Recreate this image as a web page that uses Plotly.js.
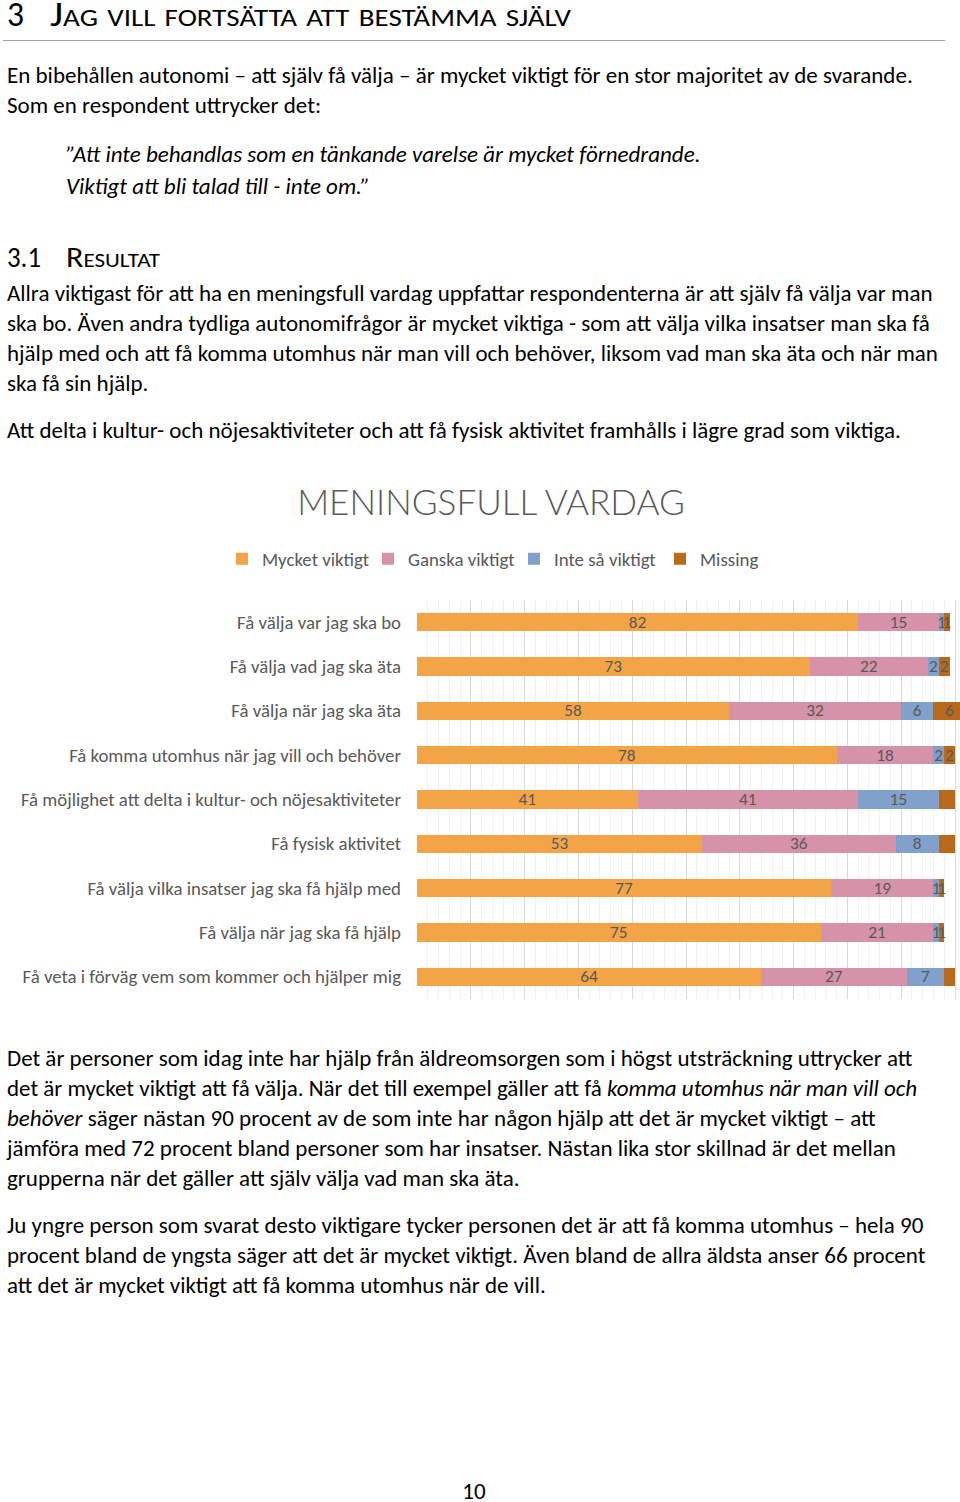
<!DOCTYPE html>
<html>
<head>
<meta charset="utf-8">
<script src="https://cdn.plot.ly/plotly-3.0.1.min.js"></script>
<style>
  html, body { margin:0; padding:0; background:#fff; }
  #page { position:relative; width:960px; height:1502px; overflow:hidden; background:#fff; color:#000; font-family:Carlito, Calibri, sans-serif; }
  .ln { position:absolute; white-space:nowrap; }
  #rule { position:absolute; left:3px; top:40px; width:942px; height:0; border-top:1.5px solid #A3A3A3; }
  #chart { position:absolute; left:0; top:450px; width:960px; height:560px; }
</style>
</head>
<body>
<div id="page">
  <div id="rule"></div>
  <div id="chart"></div>
</div>
<script>
// ---------- chart data ----------
const categories = [
  "Få välja var jag ska bo",
  "Få välja vad jag ska äta",
  "Få välja när jag ska äta",
  "Få komma utomhus när jag vill och behöver",
  "Få möjlighet att delta i kultur- och nöjesaktiviteter",
  "Få fysisk aktivitet",
  "Få välja vilka insatser jag ska få hjälp med",
  "Få välja när jag ska få hjälp",
  "Få veta i förväg vem som kommer och hjälper mig"
];
const seriesNames = ["Mycket viktigt", "Ganska viktigt", "Inte så viktigt", "Missing"];
const mycketViktigt = [82, 73, 58, 78, 41, 53, 77, 75, 64];
const ganskaViktigt = [15, 22, 32, 18, 41, 36, 19, 21, 27];
const inteSaViktigt = [1, 2, 6, 2, 15, 8, 1, 1, 7];
const missing       = [1, 2, 6, 2, 3, 3, 1, 1, 2];
const missingLabelShown = [true, true, true, true, false, false, true, true, false];
const chartTitle = "MENINGSFULL VARDAG";

// ---------- page text ----------
const FONT = "Carlito, Calibri, sans-serif";
const LIGHT = "Lato, Carlito, sans-serif";
const textLines = [
  {html:"3", x:7, base:26, size:34, fit:17},
  {html:"Jag vill fortsätta att bestämma själv", x:50, base:26, size:34, caps:true, fit:521},
  {html:"En bibehållen autonomi – att själv få välja – är mycket viktigt för en stor majoritet av de svarande.", x:7, base:83, size:23},
  {html:"Som en respondent uttrycker det:", x:7, base:113, size:23},
  {html:"”Att inte behandlas som en tänkande varelse är mycket förnedrande.", x:66, base:162, size:23, italic:true},
  {html:"Viktigt att bli talad till - inte om.”", x:66, base:194, size:23, italic:true},
  {html:"3.1", x:7, base:267, size:28, fit:34},
  {html:"Resultat", x:66, base:267, size:28, caps:true, fit:94},
  {html:"Allra viktigast för att ha en meningsfull vardag uppfattar respondenterna är att själv få välja var man", x:7, base:301, size:23},
  {html:"ska bo. Även andra tydliga autonomifrågor är mycket viktiga - som att välja vilka insatser man ska få", x:7, base:331, size:23},
  {html:"hjälp med och att få komma utomhus när man vill och behöver, liksom vad man ska äta och när man", x:7, base:361, size:23},
  {html:"ska få sin hjälp.", x:7, base:391, size:23},
  {html:"Att delta i kultur- och nöjesaktiviteter och att få fysisk aktivitet framhålls i lägre grad som viktiga.", x:7, base:438, size:23},
  {html:"Det är personer som idag inte har hjälp från äldreomsorgen som i högst utsträckning uttrycker att", x:7, base:1066, size:23},
  {html:"det är mycket viktigt att få välja. När det till exempel gäller att få <i>komma utomhus när man vill och</i>", x:7, base:1096, size:23},
  {html:"<i>behöver</i> säger nästan 90 procent av de som inte har någon hjälp att det är mycket viktigt – att", x:7, base:1126, size:23},
  {html:"jämföra med 72 procent bland personer som har insatser. Nästan lika stor skillnad är det mellan", x:7, base:1156, size:23},
  {html:"grupperna när det gäller att själv välja vad man ska äta.", x:7, base:1186, size:23},
  {html:"Ju yngre person som svarat desto viktigare tycker personen det är att få komma utomhus – hela 90", x:7, base:1233, size:23},
  {html:"procent bland de yngsta säger att det är mycket viktigt. Även bland de allra äldsta anser 66 procent", x:7, base:1263, size:23},
  {html:"att det är mycket viktigt att få komma utomhus när de vill.", x:7, base:1293, size:23},
  {html:"10", x:474, base:1499, size:23, center:true}
];

const page = document.getElementById('page');
textLines.forEach(l => {
  const d = document.createElement('div');
  d.className = 'ln';
  d.style.fontFamily = l.light ? LIGHT : FONT;
  if (l.light) d.style.fontWeight = '300';
  d.style.fontSize = l.size + 'px';
  d.style.lineHeight = Math.round(l.size * 0.75) + 'px';
  if (l.italic) d.style.fontStyle = 'italic';
  if (l.caps) d.style.fontVariant = 'small-caps';
  d.style.left = l.x + 'px';
  d.style.top = '0px';
  d.innerHTML = '<span class="t">' + l.html + '</span><span style="display:inline-block;width:0;height:0"></span>';
  page.appendChild(d);
  const off = d.lastChild.offsetTop;
  d.style.top = (l.base - off) + 'px';
  const w = d.firstChild.getBoundingClientRect().width;
  if (l.fit) {
    d.style.transformOrigin = '0 0';
    d.style.transform = 'scaleX(' + (l.fit / w) + ')';
  }
  if (l.center) d.style.left = (l.x - w / 2) + 'px';
});

// ---------- font sizes for chart from reference text widths ----------
const cv = document.createElement('canvas').getContext('2d');
function sizeFor(str, target, font) { cv.font = font || "100px Carlito"; return 100 * target / cv.measureText(str).width; }
const tickSize = sizeFor(categories[0], 164);
const legendSize = sizeFor(seriesNames[0], 107);
const titleSize = sizeFor(chartTitle, 390, "300 100px Lato");
const labelSize = sizeFor("82", 17.5);

const colors = ["#F3A447", "#D592A8", "#7FA1CB", "#B9691A"];
const values = [mycketViktigt, ganskaViktigt, inteSaViktigt, missing];

const traces = values.map((v, i) => ({
  type: 'bar',
  orientation: 'h',
  name: seriesNames[i],
  y: categories,
  x: v,
  width: 0.41,
  marker: { color: colors[i], line: { width: 0 } },
  text: v.map((val, j) => (i === 3 && !missingLabelShown[j]) ? '' : String(val)),
  textposition: 'inside',
  insidetextanchor: 'middle',
  constraintext: 'none',
  textangle: 0,
  textfont: { family: FONT, size: labelSize, color: '#595959' },
  hoverinfo: 'name+x'
}));

const H = 560, TOP = 450, PLOT_TOP = 600, PLOT_BOTTOM = 999, PLOT_LEFT = 417;
const plotH = PLOT_BOTTOM - PLOT_TOP, plotW = 960 - PLOT_LEFT;
const layout = {
  width: 960, height: H,
  margin: { l: PLOT_LEFT, r: 0, t: PLOT_TOP - TOP, b: (TOP + H) - PLOT_BOTTOM },
  barmode: 'stack',
  paper_bgcolor: 'rgba(0,0,0,0)',
  plot_bgcolor: 'rgba(0,0,0,0)',
  font: { family: FONT, color: '#595959' },
  showlegend: true,
  title: {
    text: chartTitle,
    font: { family: LIGHT, weight: 300, size: titleSize, color: '#595959' },
    xref: 'container', x: 491 / 960, xanchor: 'center',
    yref: 'container', y: 1 - (503 - TOP) / H, yanchor: 'middle'
  },
  legend: {
    orientation: 'h', traceorder: 'normal',
    entrywidth: 101, entrywidthmode: 'pixels',
    xref: 'paper', x: (222 - PLOT_LEFT) / plotW, xanchor: 'left',
    yref: 'paper', y: (PLOT_BOTTOM - 559) / plotH, yanchor: 'middle',
    font: { family: FONT, size: legendSize, color: '#595959' },
    itemclick: false, itemdoubleclick: false
  },
  xaxis: {
    range: [0, 100 * plotW / 538],
    dtick: 10, tick0: 0,
    showgrid: true, gridcolor: '#D9D9D9', gridwidth: 1,
    minor: { dtick: 2, showgrid: true, gridcolor: '#F0F0F0', gridwidth: 1 },
    showticklabels: false, ticks: '',
    zeroline: false, showline: false, fixedrange: true
  },
  yaxis: {
    type: 'category', autorange: 'reversed',
    showgrid: false, zeroline: false, showline: false,
    ticks: '', ticklabelstandoff: 15,
    tickfont: { family: FONT, size: tickSize, color: '#595959' },
    fixedrange: true
  }
};

Plotly.newPlot('chart', traces, layout, { displayModeBar: false });
</script>
</body>
</html>
